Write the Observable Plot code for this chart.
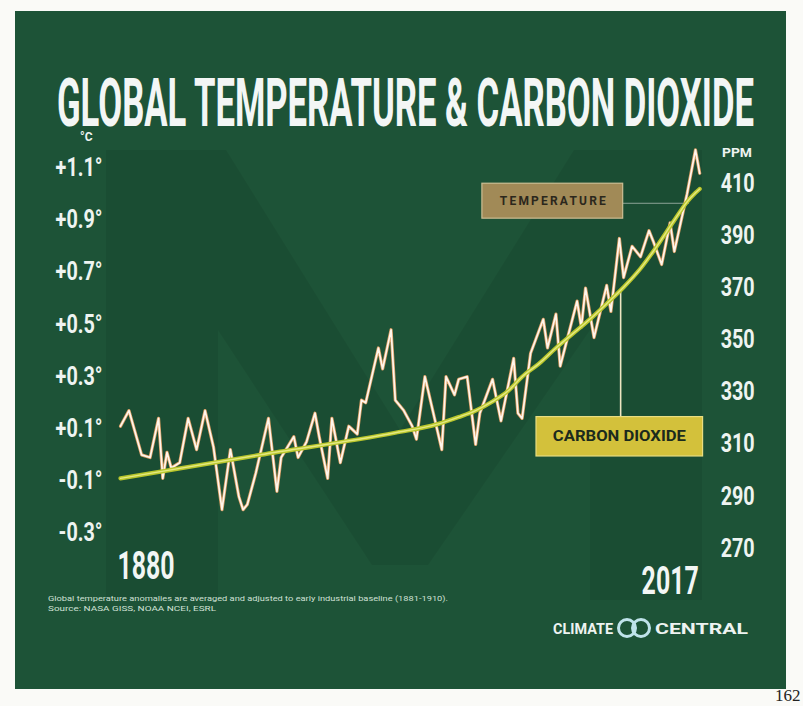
<!DOCTYPE html>
<html><head><meta charset="utf-8">
<script src="https://cdn.jsdelivr.net/npm/d3@7"></script>
<script src="https://cdn.jsdelivr.net/npm/@observablehq/plot@0.6"></script>
<style>
html,body{margin:0;padding:0;background:#fafaf7;width:803px;height:706px;overflow:hidden;position:relative;font-family:Roboto,"DejaVu Sans",sans-serif}
#bg{position:absolute;left:15px;top:11px;width:771px;height:678px;background:#1d5337}
#bg svg{position:absolute;left:0;top:0}
#chart{position:absolute;left:0;top:0}
#overlay{position:absolute;left:0;top:0}
</style></head><body>
<div id="bg"><svg width="771" height="678"><polygon transform="translate(-15,-11)" points="106,600 106,150 226,150 400,430 574,150 702,150 702,600 590,600 590,330 428,565 372,565 218,330 218,600" fill="#000" fill-opacity="0.07"/></svg></div>
<div id="chart"></div>
<svg id="overlay" width="803" height="706" font-family="Roboto, 'DejaVu Sans', sans-serif">
  <text x="57" y="126" font-size="66" font-weight="700" fill="#f3f6f5" textLength="697" lengthAdjust="spacingAndGlyphs">GLOBAL TEMPERATURE &amp; CARBON DIOXIDE</text>
  <text x="80" y="141" font-size="12" font-weight="700" fill="#eef3f1">°C</text>
  <text x="722" y="157" font-size="12" font-weight="700" fill="#eef3f1" textLength="30" lengthAdjust="spacingAndGlyphs">PPM</text>
  <text x="48" y="601" font-size="8" fill="#cfe0d5" textLength="400" lengthAdjust="spacingAndGlyphs">Global temperature anomalies are averaged and adjusted to early industrial baseline (1881-1910).</text>
  <text x="48" y="611" font-size="8" fill="#cfe0d5" textLength="168" lengthAdjust="spacingAndGlyphs">Source: NASA GISS, NOAA NCEI, ESRL</text>
  <text x="553" y="634" font-size="15" font-weight="700" fill="#eef3f1" textLength="60" lengthAdjust="spacingAndGlyphs">CLIMATE</text>
  <circle cx="627" cy="628" r="8.5" fill="none" stroke="#bfe3ea" stroke-width="3"/>
  <circle cx="641" cy="628" r="8.5" fill="none" stroke="#bfe3ea" stroke-width="3"/>
  <text x="655" y="634" font-size="15" font-weight="700" fill="#eef3f1" textLength="93" lengthAdjust="spacingAndGlyphs">CENTRAL</text>
  <text x="775" y="701" font-size="17" fill="#222" font-family="'Liberation Serif', serif">162</text>
</svg>
<script>
// Temperature anomaly (°C)
const tempYears = [1880,1882,1885,1887,1889,1890,1891,1892,1894,1896,1898,1900,1902,1904,1906,1908,1909,1910,1912,1915,1917,1918,1921,1922,1924,1926,1927,1929,1930,1932,1934,1936,1937,1938,1941,1942,1944,1945,1947,1949,1950,1952,1956,1957,1959,1960,1962,1964,1965,1968,1970,1973,1974,1975,1977,1980,1981,1983,1984,1988,1989,1990,1992,1995,1996,1998,1999,2001,2003,2005,2006,2008,2010,2011,2014,2016,2017];
const tempValues = [0.11,0.17,0.00,-0.01,0.14,-0.09,0.01,-0.05,-0.03,0.14,0.02,0.17,0.03,-0.21,0.02,-0.16,-0.21,-0.19,-0.07,0.14,-0.14,-0.01,0.07,-0.01,0.05,0.16,0.07,-0.09,0.14,-0.03,0.11,0.08,0.21,0.20,0.41,0.33,0.48,0.21,0.17,0.11,0.06,0.30,0.02,0.30,0.23,0.29,0.30,0.04,0.16,0.29,0.13,0.37,0.16,0.14,0.39,0.52,0.41,0.54,0.34,0.59,0.49,0.64,0.45,0.65,0.55,0.83,0.68,0.80,0.76,0.86,0.82,0.73,0.89,0.78,1.00,1.17,1.08];
// Carbon dioxide (ppm)
const co2Years = [1880,1913,1945,1955,1960,1964,1968,1972,1975,1979,1983,1987,1991,1995,1999,2003,2006,2011,2014,2016,2017];
const co2Values = [297,306,314.5,317.8,320.5,323,326.5,331,336,341,347,352.5,358,364,370.3,377.5,384,396,403,406.5,408];
// Tick labels
const tempTicks = [1.1,0.9,0.7,0.5,0.3,0.1,-0.1,-0.3];
const ppmTicks = [410,390,370,350,330,310,290,270];
const yearLabels = [1880, 2017];
const seriesLabels = ["TEMPERATURE", "CARBON DIOXIDE"];

// the right axis shares the frame: 1 ppm = 0.01 °C, 410 ppm at +1.04 °C
const toT = p => 1.04 - (410 - p) / 100;
const toPPM = t => Math.round(410 - (1.04 - t) * 100);

const temp = tempYears.map((year, i) => ({year, value: tempValues[i]}));
const co2 = co2Years.map((year, i) => ({year, ppm: co2Values[i]}));
const co2At = yr => toT(d3.scaleLinear().domain(co2Years).range(co2Values)(yr));

const plot = Plot.plot({
  width: 803, height: 706,
  marginLeft: 120, marginRight: 103.8, marginTop: 141.5, marginBottom: 147.3,
  style: {background: "transparent", color: "#eef4f1", fontFamily: "Roboto, 'DejaVu Sans', sans-serif", overflow: "visible"},
  x: {domain: [1880, 2017], axis: null},
  y: {domain: [-0.4, 1.2], axis: null, label: null},
  marks: [
    Plot.axisY(tempTicks, {anchor: "left", tickSize: 0, tickPadding: 18, fontSize: 25, fontWeight: "bold", fill: "#eef4f1",
      tickFormat: t => (t > 0 ? "+" : "-") + Math.abs(t).toFixed(1) + "°", label: null}),
    Plot.axisY(ppmTicks.map(toT), {anchor: "right", tickSize: 0, tickPadding: 21, fontSize: 25, fontWeight: "bold", fill: "#eef4f1",
      tickFormat: t => String(toPPM(t)), label: null}),
    // TEMPERATURE tag and its leader
    Plot.ruleY([0.965], {x1: () => 1998.9, x2: () => 2014.6, stroke: "#a9b9b0", strokeWidth: 1, strokeOpacity: 0.8}),
    Plot.rect([seriesLabels[0]], {x1: () => 1965.6, x2: () => 1998.9, y1: () => 0.906, y2: () => 1.04, fill: "#a18a57", stroke: "#cbbd93", strokeWidth: 1.2}),
    Plot.text([seriesLabels[0]], {x: () => 1982.25, y: () => 0.973, text: d => d, fontSize: 12, fontWeight: "bold", fill: "#2b271c"}),
    // CARBON DIOXIDE tag and its leader
    Plot.ruleX([1998.3], {y1: () => 0.145, y2: () => co2At(1998.3), stroke: "#eee5c2", strokeWidth: 1.6}),
    Plot.rect([seriesLabels[1]], {x1: () => 1978.4, x2: () => 2017.8, y1: () => -0.006, y2: () => 0.145, fill: "#d3c13b", stroke: "#e9dd80", strokeWidth: 1.2}),
    Plot.text([seriesLabels[1]], {x: () => 1998, y: () => 0.07, text: d => d, fontSize: 15, fontWeight: "bold", fill: "#1b2a1d"}),
    // temperature line
    Plot.line(temp, {x: "year", y: "value", stroke: "#d99c62", strokeWidth: 3.2, strokeLinejoin: "round"}),
    Plot.line(temp, {x: "year", y: "value", stroke: "#fff6ec", strokeWidth: 1.7, strokeLinejoin: "round"}),
    // CO2 line
    Plot.line(co2, {x: "year", y: d => toT(d.ppm), stroke: "#b9c62b", strokeWidth: 4.2, curve: "monotone-x"}),
    Plot.line(co2, {x: "year", y: d => toT(d.ppm), stroke: "#e4e982", strokeWidth: 1.4, curve: "monotone-x"}),
    // year labels
    Plot.text([yearLabels[0]], {x: d => d, frameAnchor: "bottom", lineAnchor: "bottom", dy: 19.5, dx: -3, textAnchor: "start",
      text: d => String(d), fontSize: 38, fontWeight: "bold", fill: "#f2f6f4"}),
    Plot.text([yearLabels[1]], {x: d => d, frameAnchor: "bottom", lineAnchor: "bottom", dy: 34.5, dx: -1, textAnchor: "end",
      text: d => String(d), fontSize: 38, fontWeight: "bold", fill: "#f2f6f4"})
  ]
});
document.getElementById("chart").appendChild(plot);

// condensed lettering like the original typeface
plot.querySelectorAll("text").forEach(t => {
  const txt = t.textContent;
  if (txt === seriesLabels[0]) { t.setAttribute("textLength", 106); t.setAttribute("lengthAdjust", "spacing"); return; }
  if (txt === seriesLabels[1]) { t.setAttribute("textLength", 133); t.setAttribute("lengthAdjust", "spacingAndGlyphs"); return; }
  const fs = parseFloat(getComputedStyle(t).fontSize);
  let f = 1;
  if (fs >= 34) f = 0.655; else if (fs >= 20) f = 0.79;
  if (f < 1) {
    const len = t.getComputedTextLength();
    t.setAttribute("textLength", (len * f).toFixed(1));
    t.setAttribute("lengthAdjust", "spacingAndGlyphs");
  }
});
</script>
</body></html>
